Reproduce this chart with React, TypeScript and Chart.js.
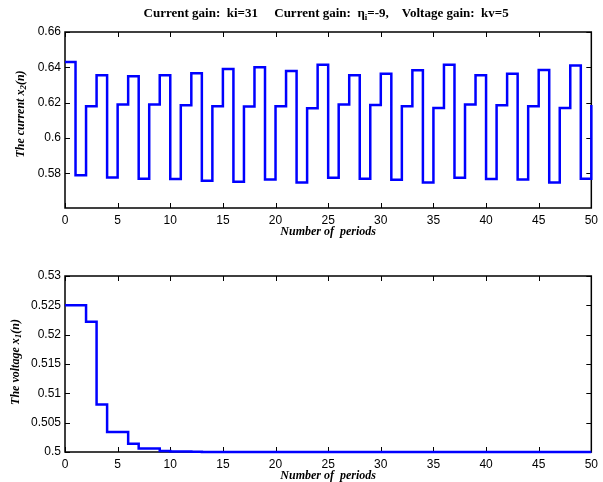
import React, { useEffect, useRef } from "react";
import { Chart, registerables } from "chart.js";

Chart.register(...registerables);

const PERIODS: number[] = Array.from({ length: 51 }, (_, i) => i);

const CURRENT_X2: number[] = [
  0.643, 0.579, 0.618, 0.6355, 0.5777, 0.619, 0.635, 0.577, 0.619, 0.6355,
  0.5768, 0.6185, 0.6366, 0.5758, 0.618, 0.639, 0.5752, 0.6178, 0.64, 0.5765,
  0.618, 0.638, 0.5749, 0.6169, 0.6415, 0.5775, 0.619, 0.6355, 0.577, 0.6187,
  0.6364, 0.5764, 0.618, 0.6383, 0.5749, 0.617, 0.6415, 0.5775, 0.619, 0.6355,
  0.5768, 0.6185, 0.6364, 0.5765, 0.618, 0.6385, 0.5749, 0.617, 0.641, 0.577,
  0.6187,
];

const VOLTAGE_X1: number[] = [
  0.525, 0.525, 0.5222, 0.5081, 0.5034, 0.5034, 0.5014, 0.5006, 0.5006, 0.50015,
  0.5001, 0.5001, 0.50005, 0.5, 0.5, 0.5, 0.5, 0.5, 0.5, 0.5,
  0.5, 0.5, 0.5, 0.5, 0.5, 0.5, 0.5, 0.5, 0.5, 0.5,
  0.5, 0.5, 0.5, 0.5, 0.5, 0.5, 0.5, 0.5, 0.5, 0.5,
  0.5, 0.5, 0.5, 0.5, 0.5, 0.5, 0.5, 0.5, 0.5, 0.5,
  0.5,
];

const X_TICKS: number[] = [0, 5, 10, 15, 20, 25, 30, 35, 40, 45, 50];
const TOP_Y_TICKS: number[] = [0.58, 0.6, 0.62, 0.64, 0.66];
const BOTTOM_Y_TICKS: number[] = [0.5, 0.505, 0.51, 0.515, 0.52, 0.525, 0.53];

const TITLE_PARTS = ["Current gain:  ki=31     Current gain:  \u03b7", "i", "=-9,    Voltage gain:  kv=5"];
const X_LABEL = "Number of  periods";
const TOP_Y_LABEL = ["The current x", "2", "(n)"];
const BOTTOM_Y_LABEL = ["The voltage x", "1", "(n)"];

const TICK_FONT = { family: "'Liberation Sans', Arial, sans-serif", size: 12 };
const SERIF = "'Liberation Serif', 'Times New Roman', serif";

const fmt = (v: number) => String(parseFloat(Number(v).toFixed(4)));

function drawSubText(ctx: CanvasRenderingContext2D, parts: string[], cx: number, cy: number, mainFont: string, subFont: string, subShift: number) {
  ctx.font = mainFont;
  const w0 = ctx.measureText(parts[0]).width;
  const w2 = ctx.measureText(parts[2]).width;
  ctx.font = subFont;
  const w1 = ctx.measureText(parts[1]).width;
  const total = w0 + w1 + w2;
  let x = cx - total / 2;
  ctx.textAlign = "left";
  ctx.textBaseline = "middle";
  ctx.font = mainFont;
  ctx.fillText(parts[0], x, cy);
  x += w0;
  ctx.font = subFont;
  ctx.fillText(parts[1], x, cy + subShift);
  x += w1;
  ctx.font = mainFont;
  ctx.fillText(parts[2], x, cy);
}

function makeDecor(cfg: { yLabel: string[]; yLabelX: number; yLabelCy: number; xTicks: number[]; yTicks: number[]; title: boolean }) {
  return {
    id: "decor",
    beforeDatasetsDraw(chart: any) {
      const { ctx, chartArea: a, scales } = chart;
      const xs = scales.x;
      const ys = scales.y;
      ctx.save();
      ctx.strokeStyle = "#000";
      ctx.lineWidth = 1.5;
      ctx.strokeRect(a.left, a.top, a.right - a.left, a.bottom - a.top);
      ctx.lineWidth = 1;
      const tl = 5;
      ctx.beginPath();
      for (const v of cfg.xTicks) {
        const px = Math.round(xs.getPixelForValue(v)) + 0.5;
        ctx.moveTo(px, a.bottom);
        ctx.lineTo(px, a.bottom - tl);
        ctx.moveTo(px, a.top);
        ctx.lineTo(px, a.top + tl);
      }
      for (const v of cfg.yTicks) {
        const py = Math.round(ys.getPixelForValue(v)) + 0.5;
        ctx.moveTo(a.left, py);
        ctx.lineTo(a.left + tl, py);
        ctx.moveTo(a.right, py);
        ctx.lineTo(a.right - tl, py);
      }
      ctx.stroke();
      ctx.restore();
    },
    afterDraw(chart: any) {
      const { ctx, chartArea: a } = chart;
      ctx.save();
      ctx.fillStyle = "#000";
      ctx.font = `italic bold 12px ${SERIF}`;
      ctx.textAlign = "center";
      ctx.textBaseline = "middle";
      ctx.fillText(X_LABEL, (a.left + a.right) / 2, a.bottom + 24);
      ctx.save();
      ctx.translate(cfg.yLabelX, cfg.yLabelCy);
      ctx.rotate(-Math.PI / 2);
      drawSubText(ctx, cfg.yLabel, 0, 0, `italic bold 12px ${SERIF}`, `italic bold 9px ${SERIF}`, 3);
      ctx.restore();
      if (cfg.title) {
        drawSubText(ctx, TITLE_PARTS, (a.left + a.right) / 2 - 2, 14, `bold 13px ${SERIF}`, `bold 9px ${SERIF}`, 4);
      }
      ctx.restore();
    },
  };
}

function makeConfig(values: number[], yMin: number, yMax: number, yTicks: number[], padTop: number, xHeight: number, decor: any): any {
  return {
    type: "line",
    data: {
      datasets: [
        {
          data: PERIODS.map((n, i) => ({ x: n, y: values[i] })),
          borderColor: "#0000ff",
          borderWidth: 2.5,
          pointRadius: 0,
          stepped: "before",
          fill: false,
          clip: false,
        },
      ],
    },
    options: {
      animation: false,
      responsive: false,
      maintainAspectRatio: false,
      layout: { padding: { top: padTop, right: 5, left: 0, bottom: 0 } },
      plugins: { legend: { display: false }, tooltip: { enabled: false }, title: { display: false } },
      scales: {
        x: {
          type: "linear",
          min: 0,
          max: 50,
          afterBuildTicks: (s: any) => {
            s.ticks = X_TICKS.map((v) => ({ value: v }));
          },
          afterFit: (s: any) => {
            s.height = xHeight;
          },
          grid: { display: false, drawTicks: false },
          border: { display: false },
          ticks: { padding: 5, font: TICK_FONT, color: "#000", maxRotation: 0, autoSkip: false, callback: (v: any) => fmt(v) },
        },
        y: {
          type: "linear",
          min: yMin,
          max: yMax,
          afterBuildTicks: (s: any) => {
            s.ticks = yTicks.map((v) => ({ value: v }));
          },
          afterFit: (s: any) => {
            s.width = 65;
          },
          grid: { display: false, drawTicks: false },
          border: { display: false },
          ticks: { padding: 4, font: TICK_FONT, color: "#000", autoSkip: false, callback: (v: any) => fmt(v) },
        },
      },
    },
    plugins: [decor],
  };
}

export default function App() {
  const topRef = useRef<HTMLCanvasElement | null>(null);
  const botRef = useRef<HTMLCanvasElement | null>(null);

  useEffect(() => {
    const top = new Chart(
      topRef.current as HTMLCanvasElement,
      makeConfig(
        CURRENT_X2,
        0.5604,
        0.66,
        TOP_Y_TICKS,
        32,
        33,
        makeDecor({ yLabel: TOP_Y_LABEL, yLabelX: 21, yLabelCy: 114, xTicks: X_TICKS, yTicks: TOP_Y_TICKS, title: true })
      )
    );
    const bot = new Chart(
      botRef.current as HTMLCanvasElement,
      makeConfig(
        VOLTAGE_X1,
        0.5,
        0.53,
        BOTTOM_Y_TICKS,
        35,
        30,
        makeDecor({ yLabel: BOTTOM_Y_LABEL, yLabelX: 16, yLabelCy: 121, xTicks: X_TICKS, yTicks: BOTTOM_Y_TICKS, title: false })
      )
    );
    return () => {
      top.destroy();
      bot.destroy();
    };
  }, []);

  return (
    <div style={{ position: "absolute", left: 0, top: 0, width: 603, height: 482, background: "#fff" }}>
      <canvas ref={topRef} width={603} height={241} style={{ display: "block", width: 603, height: 241 }} />
      <canvas ref={botRef} width={603} height={241} style={{ display: "block", width: 603, height: 241 }} />
    </div>
  );
}
